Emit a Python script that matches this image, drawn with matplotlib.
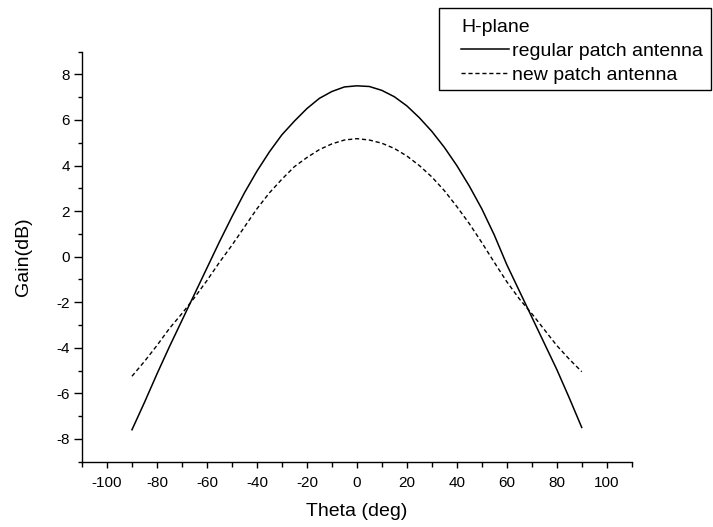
import numpy as np
import matplotlib.pyplot as plt
from matplotlib.ticker import MultipleLocator
from matplotlib.patches import Rectangle

plt.rcParams['font.family'] = ['Liberation Sans', 'DejaVu Sans']
plt.rcParams['axes.unicode_minus'] = False

# angle (deg)
theta = [-90, -85, -80, -75, -70, -65, -60, -55, -50, -45, -40, -35, -30,
         -25, -20, -15, -10, -5, 0, 5, 10, 15, 20, 25, 30, 35, 40, 45, 50,
         55, 60, 65, 70, 75, 80, 85, 90]

# gain (dB) of regular patch antenna
gain_regular = [-7.6, -6.4, -5.15, -3.95, -2.8, -1.65, -0.5, 0.65, 1.75, 2.8,
                3.75, 4.6, 5.35, 5.95, 6.5, 6.95, 7.25, 7.45, 7.5, 7.47, 7.3,
                7.02, 6.62, 6.1, 5.5, 4.8, 4.0, 3.1, 2.1, 0.95, -0.35, -1.5,
                -2.65, -3.8, -4.95, -6.2, -7.5]

# gain (dB) of new patch antenna
gain_new = [-5.25, -4.6, -3.9, -3.15, -2.5, -1.8, -1.05, -0.25, 0.5, 1.3,
            2.1, 2.8, 3.4, 3.95, 4.35, 4.7, 4.95, 5.12, 5.18, 5.12, 4.98,
            4.75, 4.42, 4.0, 3.5, 2.9, 2.2, 1.45, 0.62, -0.25, -1.1, -1.85,
            -2.5, -3.2, -3.9, -4.5, -5.05]

fig = plt.figure(figsize=(7.13, 5.27), dpi=100)
ax = fig.add_axes([0.115, 0.124, 0.771, 0.778])

l1, = ax.plot(theta, gain_regular, color='black', lw=1.1, label='regular patch antenna')
l2, = ax.plot(theta, gain_new, color='black', lw=1.0, linestyle=(0, (3, 2)),
              label='new patch antenna')

ax.set_xlim(-110, 110)
ax.set_ylim(-9, 9)
ax.xaxis.set_major_locator(MultipleLocator(20))
ax.xaxis.set_minor_locator(MultipleLocator(10))
ax.yaxis.set_major_locator(MultipleLocator(2))
ax.yaxis.set_minor_locator(MultipleLocator(1))

for s in ['top', 'right']:
    ax.spines[s].set_visible(False)
for s in ['left', 'bottom']:
    ax.spines[s].set_linewidth(1.0)

ax.tick_params(axis='both', which='both', direction='out', labelsize=11, width=1.0)
ax.tick_params(axis='y', which='major', length=5.5, pad=3)
ax.tick_params(axis='y', which='minor', length=3)
ax.tick_params(axis='x', which='major', length=4, pad=6)
ax.tick_params(axis='x', which='minor', length=3.5)

ax.set_xlabel('Theta (deg)', fontsize=14, labelpad=10)
ax.set_ylabel('Gain(dB)', fontsize=14, labelpad=18)

# legend box
fig.patches.append(Rectangle((439 / 713, 1 - 90 / 527), 272 / 713, 82 / 527,
                             transform=fig.transFigure, fill=False,
                             edgecolor='black', lw=1.0))
leg = fig.legend(handles=[l1, l2], title='H-plane', loc='upper left',
                 bbox_to_anchor=(461 / 713, 1 - 19 / 527), frameon=False,
                 fontsize=14, title_fontsize=14, alignment='left',
                 borderpad=0, borderaxespad=0, handlelength=2.45,
                 handletextpad=0.15, labelspacing=0.32)

fig.savefig('out.png', dpi=100)
